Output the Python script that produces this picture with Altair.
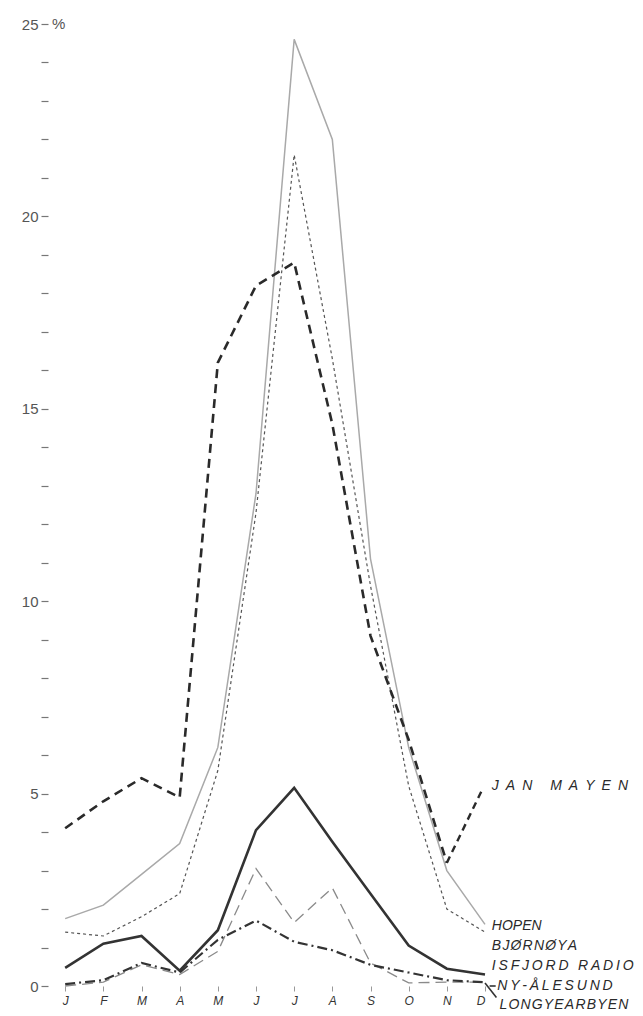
import altair as alt
import pandas as pd

# ---- data (percent per month) ----
months = ["J", "F", "M", "A", "M", "J", "J", "A", "S", "O", "N", "D"]
stations = ["JAN MAYEN", "HOPEN", "BJØRNØYA", "ISFJORD RADIO", "NY-ÅLESUND", "LONGYEARBYEN"]
jan_mayen = [4.1, 4.8, 5.4, 4.9, 16.2, 18.2, 18.8, 14.6, 9.1, 6.4, 3.2, None]
hopen = [1.75, 2.1, 2.9, 3.7, 6.2, 12.8, 24.6, 22.0, 11.1, 6.2, 3.0, 1.6]
bjornoya = [1.4, 1.3, 1.8, 2.4, 5.6, 12.3, 21.6, 16.3, 10.4, 5.2, 2.0, 1.4]
isfjord = [0.47, 1.1, 1.3, 0.4, 1.45, 4.05, 5.15, 3.75, 2.4, 1.05, 0.45, 0.3]
ny_alesund = [0.0, 0.1, 0.55, 0.3, 0.9, 3.05, 1.65, 2.55, 0.6, 0.08, 0.1, 0.1]
longyearbyen = [0.05, 0.15, 0.6, 0.35, 1.2, 1.7, 1.15, 0.93, 0.55, 0.35, 0.15, 0.1]
series = [jan_mayen, hopen, bjornoya, isfjord, ny_alesund, longyearbyen]

rows = []
for name, vals in zip(stations, series):
    for i, v in enumerate(vals):
        if v is not None:
            rows.append({"station": name, "m": i, "v": v})
df = pd.DataFrame(rows)

# ---- styling ----
W, H = 437, 962
xs = alt.Scale(domain=[-0.45, 11], nice=False, zero=False)
ys = alt.Scale(domain=[0, 25], nice=False, zero=False)

label_expr = "[" + ",".join("'%s'" % m for m in months) + "][datum.value]"
x_axis = alt.Axis(values=list(range(12)), labelExpr=label_expr, domain=False, grid=False,
                  tickSize=5, tickColor="#999", tickWidth=1, tickOffset=0,
                  labelFont="Liberation Sans", labelFontStyle="italic", labelFontSize=12,
                  labelColor="#333", labelPadding=4, title=None)
y_axis = alt.Axis(values=list(range(26)), labelExpr="datum.value % 5 == 0 ? datum.value : ''",
                  domain=False, grid=False, tickSize=7, tickColor="#777", tickWidth=1.2,
                  labelFont="Liberation Sans", labelFontSize=15, labelColor="#555",
                  labelPadding=3, title=None)

X = alt.X("m:Q", scale=xs, axis=x_axis)
Y = alt.Y("v:Q", scale=ys, axis=y_axis)

styles = {
    "HOPEN": dict(color="#a9a9a9", strokeWidth=1.5),
    "BJØRNØYA": dict(color="#555555", strokeWidth=1.2, strokeDash=[3, 3]),
    "JAN MAYEN": dict(color="#2a2a2a", strokeWidth=2.6, strokeDash=[9, 6]),
    "ISFJORD RADIO": dict(color="#333333", strokeWidth=2.6),
    "NY-ÅLESUND": dict(color="#8a8a8a", strokeWidth=1.3, strokeDash=[11, 6]),
    "LONGYEARBYEN": dict(color="#333333", strokeWidth=2.2, strokeDash=[10, 4, 2, 4]),
}

layers = []
for name in ["HOPEN", "BJØRNØYA", "NY-ÅLESUND", "LONGYEARBYEN", "ISFJORD RADIO", "JAN MAYEN"]:
    layers.append(
        alt.Chart(df).transform_filter(alt.datum.station == name)
        .mark_line(**styles[name])
        .encode(x=X, y=Y)
    )

# ---- annotations (station names at the right, leader strokes) ----
def spaced(t, sep):
    return sep.join(list(t))

ann_x = [11.18, 11.18, 11.18, 11.18, 11.32, 11.38]
ann_y = [5.2, 1.56, 1.04, 0.52, 0.0, -0.5]
ann_sep = ["\u2002", "", "\u200A", "\u2009", "\u2009", "\u200A"]
ann = pd.DataFrame({
    "m": ann_x, "v": ann_y,
    "t": [spaced(s, sep) for s, sep in zip(stations, ann_sep)],
})
text_layer = alt.Chart(ann).mark_text(
    align="left", baseline="middle", font="Liberation Sans", fontStyle="italic",
    fontSize=14, color="#2a2a2a"
).encode(x=X, y=Y, text="t:N")

lead_jm = pd.DataFrame({"m": [10], "v": [3.2], "m2": [10.95], "v2": [5.15]})
lead1 = alt.Chart(lead_jm).mark_rule(color="#2a2a2a", strokeWidth=2.4, strokeDash=[7, 5]).encode(
    x=X, y=Y, x2="m2", y2="v2")
lead_small = pd.DataFrame({"m": [11.12, 11.0], "v": [0.0, 0.08], "m2": [11.28, 11.3], "v2": [0.0, -0.3]})
lead2 = alt.Chart(lead_small).mark_rule(color="#333", strokeWidth=1.6).encode(
    x=X, y=Y, x2="m2", y2="v2")

pct = alt.Chart(pd.DataFrame({"a": [0]})).mark_text(
    text="%", align="left", baseline="middle", font="Liberation Sans", fontSize=15, color="#555"
).encode(x=alt.value(4), y=alt.value(0))

chart = alt.layer(*layers, lead1, lead2, text_layer, pct).properties(
    width=W, height=H,
    background="white",
    autosize=alt.AutoSizeParams(type="none"),
    padding={"left": 40, "top": 16, "right": 150, "bottom": 28},
).configure_view(stroke=None)

chart.save("out.html", embed_options={"renderer": "svg", "actions": False})
